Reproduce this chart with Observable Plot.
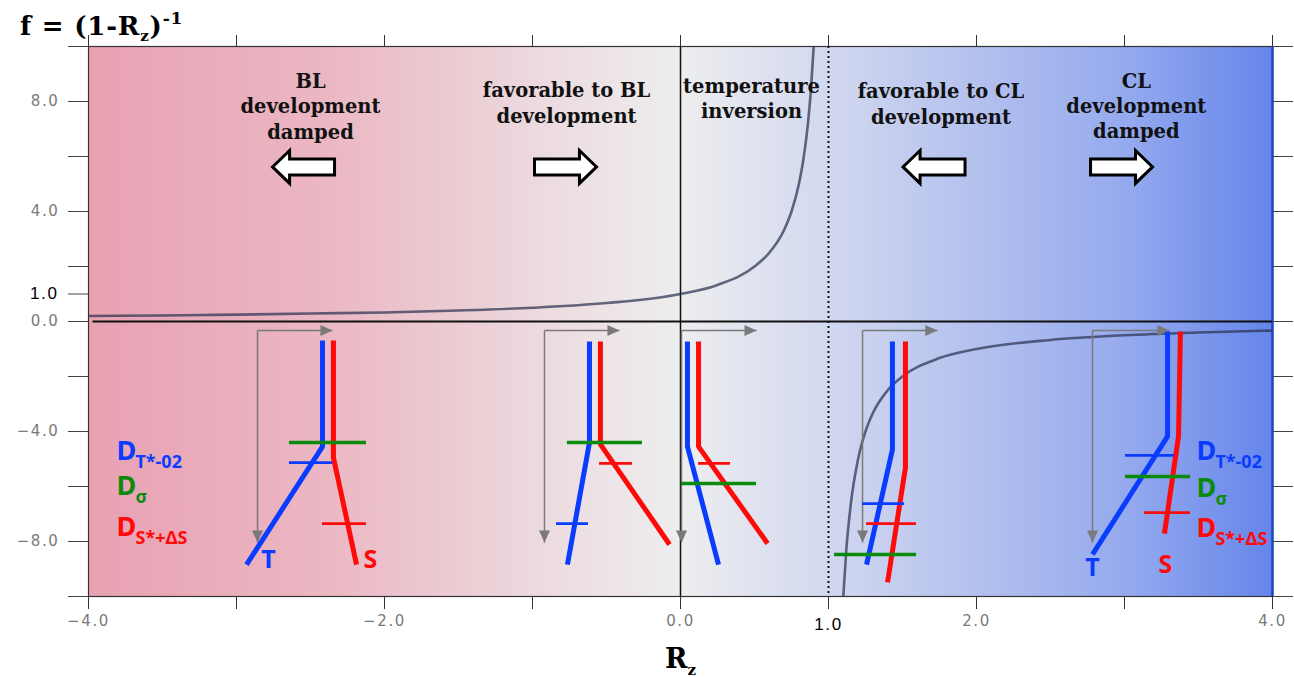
<!DOCTYPE html>
<html><head><meta charset="utf-8">
<script src="https://cdn.jsdelivr.net/npm/d3@7"></script>
<script src="https://cdn.jsdelivr.net/npm/@observablehq/plot@0.6"></script>
<style>
html,body{margin:0;padding:0;background:#fff;}
#chart{position:relative;width:1294px;height:677px;}
#chart g[aria-label$="tick label"] text{letter-spacing:1.6px;}
</style>
</head><body><div id="chart"></div>
<script>
// ---------- axes ----------
const xTicks = [-4, -3, -2, -1, 0, 1, 2, 3, 4];
const xTickLabels = [-4, -2, 0, 2, 4];
const yTicks = [-10, -8, -6, -4, -2, 0, 2, 4, 6, 8, 10];
const yTickLabels = [-8, -4, 0, 4, 8];
const highlightTick = [1];

// ---------- f = (1-Rz)^-1 ----------
const curveLeftRz = [-4, -3.5, -3, -2.5, -2, -1.5, -1, -0.5, 0, 0.25, 0.5, 0.6, 0.7, 0.75, 0.8, 0.83, 0.86, 0.88, 0.9];
const curveLeftF  = [0.2, 0.22, 0.25, 0.29, 0.33, 0.4, 0.5, 0.67, 1.0, 1.33, 2.0, 2.5, 3.33, 4.0, 5.0, 5.88, 7.14, 8.33, 10.0];
const curveRightRz = [1.1, 1.12, 1.15, 1.2, 1.25, 1.3, 1.4, 1.5, 1.75, 2, 2.5, 3, 3.5, 4];
const curveRightF  = [-10, -8.33, -6.67, -5, -4, -3.33, -2.5, -2, -1.33, -1, -0.67, -0.5, -0.4, -0.33];

// ---------- background gradient (pink -> grey -> blue) ----------
const bgOffsets = [0, 0.2, 0.4, 0.5, 0.62, 0.75, 0.88, 1];
const bgColors  = ["#e8a1b2", "#ebb7c3", "#ecdde1", "#eeeeef", "#d3d9ef", "#b4c1ee", "#94a9ee", "#6585ea"];

// ---------- region annotations ----------
const regionX = [-2.5, -0.77, 0.48, 1.76, 3.08];
const regionF = [7.86, 7.98, 8.15, 7.95, 7.88];
const regionText = ["BL\ndevelopment\ndamped", "favorable to BL\ndevelopment", "temperature\ninversion", "favorable to CL\ndevelopment", "CL\ndevelopment\ndamped"];

const blockArrowX = [-2.547, -0.777, 1.713, 2.98];
const blockArrowF = [5.62, 5.62, 5.62, 5.62];
const blockArrowDir = ["left", "right", "left", "right"];

// ---------- schematic profiles ----------
const glyphOriginX = [-2.858, -0.919, 0.007, 1.230, 2.784];
const glyphArrowTipX = [-2.351, -0.412, 0.514, 1.736, 3.304];
const glyphTopF = [-0.33, -0.33, -0.33, -0.33, -0.33];
const glyphBottomF = [-8.04, -8.04, -8.04, -8.04, -8.04];

const profileT = [
  [[-2.419, -0.69], [-2.419, -4.55], [-2.932, -8.84]],
  [[-0.615, -0.73], [-0.615, -4.40], [-0.764, -8.84]],
  [[0.047, -0.73], [0.047, -4.55], [0.257, -8.84]],
  [[1.432, -0.73], [1.432, -4.66], [1.257, -8.84]],
  [[3.291, -0.36], [3.291, -4.18], [2.784, -8.47]]
];
const profileS = [
  [[-2.345, -0.69], [-2.345, -4.95], [-2.189, -8.84]],
  [[-0.541, -0.73], [-0.541, -4.47], [-0.074, -8.11]],
  [[0.122, -0.73], [0.122, -4.55], [0.588, -8.07]],
  [[1.520, -0.73], [1.520, -5.31], [1.399, -9.49]],
  [[3.378, -0.36], [3.365, -4.18], [3.270, -7.71]]
];
// depth markers: [Rz start, Rz end, f]
const depthT = [[-2.642, -2.351, -5.13], [-0.838, -0.622, -7.35], [1.230, 1.514, -6.62], [3.007, 3.338, -4.87]];
const depthS = [[-2.419, -2.122, -7.35], [-0.547, -0.324, -5.16], [0.122, 0.338, -5.16], [1.257, 1.595, -7.35], [3.135, 3.446, -6.95]];
const depthSigma = [[-2.642, -2.122, -4.40], [-0.764, -0.257, -4.40], [0.007, 0.514, -5.89], [1.041, 1.595, -8.47], [3.007, 3.446, -5.64]];

const tsText = ["T", "S", "T", "S"];
const tsX = [-2.784, -2.095, 2.784, 3.277];
const tsF = [-8.69, -8.69, -8.95, -8.84];

const legendX = [-3.811, 3.486];
const legendMain = ["D", "D", "D"];
const legendSub = ["T*-02", "σ", "S*+ΔS"];
const legendF = [[-5.03, -6.30, -7.79], [-5.03, -6.37, -7.82]];

// ---------- styles ----------
const BLUE = "#0a3cff", RED = "#ff0a0a", GREEN = "#0b8a0b", GREY = "#7a7a7a";
const legendColors = [BLUE, GREEN, RED];
const fmt = d3.format(".1f");

// custom symbols
function blockSymbol(dir) {
  const k = dir === "right" ? 1 : -1;
  const pts = [[-1, -0.26], [0.45, -0.26], [0.45, -0.53], [1, 0], [0.45, 0.53], [0.45, 0.26], [-1, 0.26]];
  return {draw(ctx, size) {
    const s = Math.sqrt(size / Math.PI);
    pts.forEach(([a, b], i) => i ? ctx.lineTo(k * a * s, b * s) : ctx.moveTo(k * a * s, b * s));
    ctx.closePath();
  }};
}
const triRight = {draw(ctx, size) { const s = Math.sqrt(size / Math.PI); ctx.moveTo(0, 0); ctx.lineTo(-2.2 * s, -s); ctx.lineTo(-2.2 * s, s); ctx.closePath(); }};
const triDown = {draw(ctx, size) { const s = Math.sqrt(size / Math.PI); ctx.moveTo(0, 0); ctx.lineTo(-s, -2.2 * s); ctx.lineTo(s, -2.2 * s); ctx.closePath(); }};

const gradientDefs = () => {
  const ns = "http://www.w3.org/2000/svg";
  const defs = document.createElementNS(ns, "defs");
  const lg = document.createElementNS(ns, "linearGradient");
  lg.setAttribute("id", "bgGrad");
  lg.setAttribute("x1", "0"); lg.setAttribute("x2", "1"); lg.setAttribute("y1", "0"); lg.setAttribute("y2", "0");
  bgOffsets.forEach((o, i) => {
    const st = document.createElementNS(ns, "stop");
    st.setAttribute("offset", o);
    st.setAttribute("stop-color", bgColors[i]);
    lg.appendChild(st);
  });
  defs.appendChild(lg);
  return defs;
};

const toRows = (profiles) => profiles.flatMap((pts, g) => pts.map(p => ({g, x: p[0], y: p[1]})));
const idx = (arr) => arr.map((_, i) => i);

const curveRows = [
  ...curveLeftRz.map((x, i) => ({g: 0, x, y: curveLeftF[i]})),
  ...curveRightRz.map((x, i) => ({g: 1, x, y: curveRightF[i]}))
];
const arrowRows = idx(blockArrowX).map(i => ({x: blockArrowX[i], y: blockArrowF[i], dir: blockArrowDir[i]}));
const glyphRows = idx(glyphOriginX).map(i => ({ox: glyphOriginX[i], tx: glyphArrowTipX[i], top: glyphTopF[i], bot: glyphBottomF[i]}));
const legendRows = legendX.flatMap((x, j) => legendMain.map((m, i) => ({x, y: legendF[j][i], main: m, sub: legendSub[i], color: legendColors[i]})));

const svg = Plot.plot({
  width: 1294,
  height: 677,
  marginLeft: 88,
  marginRight: 22,
  marginTop: 46,
  marginBottom: 81,
  x: {domain: [-4, 4]},
  y: {domain: [-10, 10]},
  style: {fontFamily: "DejaVu Sans", background: "transparent", overflow: "visible"},
  marks: [
    gradientDefs,
    Plot.rect([0], {x1: -4, x2: 4, y1: -10, y2: 10, fill: "url(#bgGrad)"}),
    Plot.frame({stroke: "#333", strokeWidth: 1.2}),
    Plot.ruleX([4], {stroke: "#1c45c4", strokeWidth: 2.5}),
    // axes
    Plot.axisY({anchor: "left", ticks: yTicks, tickSize: 20, tickPadding: 9, fontSize: 15, fill: "#7a7a7a", stroke: "#444",
      tickFormat: d => yTickLabels.includes(d) ? fmt(d) : "", label: null}),
    Plot.axisY({anchor: "left", ticks: highlightTick, tickSize: 20, tickPadding: 10, fontSize: 17, fontFamily: "Liberation Sans", fill: "#000", stroke: "#444",
      tickFormat: fmt, label: null}),
    Plot.axisY({anchor: "right", ticks: yTicks, tickSize: 20, stroke: "#444", tickFormat: () => "", label: null}),
    Plot.axisX({anchor: "bottom", ticks: xTicks, tickSize: 13, tickPadding: 6, fontSize: 15, fill: "#7a7a7a", stroke: "#333",
      tickFormat: d => xTickLabels.includes(d) ? fmt(d) : "", label: null}),
    Plot.axisX({anchor: "bottom", ticks: highlightTick, tickSize: 13, tickPadding: 8, fontSize: 17, fontFamily: "Liberation Sans", fill: "#000", stroke: "#333",
      tickFormat: fmt, label: null}),
    Plot.axisX({anchor: "top", ticks: xTicks, tickSize: 12, stroke: "#333", tickFormat: () => "", label: null}),
    // reference lines
    Plot.ruleY([0], {x1: -3.97, x2: 4, stroke: "#111", strokeWidth: 2}),
    Plot.ruleX([0], {stroke: "#111", strokeWidth: 1.5}),
    Plot.ruleX(highlightTick, {stroke: "#111", strokeWidth: 2, strokeDasharray: "2,3"}),
    // f curve
    Plot.line(curveRows, {x: "x", y: "y", z: "g", stroke: "#2b3350", strokeOpacity: 0.72, strokeWidth: 2.6, curve: "monotone-x", clip: true}),
    // region labels
    Plot.text(idx(regionText), {x: i => regionX[i], y: i => regionF[i], text: i => regionText[i],
      fontFamily: "DejaVu Serif", fontWeight: "bold", fontSize: 19.5, lineHeight: 1.3, fill: "#111"}),
    Plot.dot(arrowRows.filter(d => d.dir === "left"), {x: "x", y: "y", r: 31, symbol: blockSymbol("left"), fill: "#fff", stroke: "#000", strokeWidth: 3}),
    Plot.dot(arrowRows.filter(d => d.dir === "right"), {x: "x", y: "y", r: 31, symbol: blockSymbol("right"), fill: "#fff", stroke: "#000", strokeWidth: 3}),
    // schematic grey axes
    Plot.link(glyphRows, {x1: "ox", y1: "top", x2: "tx", y2: "top", stroke: GREY, strokeWidth: 1.5}),
    Plot.link(glyphRows, {x1: "ox", y1: "top", x2: "ox", y2: "bot", stroke: GREY, strokeWidth: 1.5}),
    Plot.dot(glyphRows, {x: "tx", y: "top", r: 5.5, symbol: triRight, fill: GREY, stroke: "none"}),
    Plot.dot(glyphRows, {x: "ox", y: "bot", r: 5.5, symbol: triDown, fill: GREY, stroke: "none"}),
    // profiles
    Plot.line(toRows(profileT), {x: "x", y: "y", z: "g", stroke: BLUE, strokeWidth: 5, strokeLinecap: "butt", strokeLinejoin: "miter"}),
    Plot.line(toRows(profileS), {x: "x", y: "y", z: "g", stroke: RED, strokeWidth: 5, strokeLinecap: "butt", strokeLinejoin: "miter"}),
    Plot.ruleY(depthT, {y: d => d[2], x1: d => d[0], x2: d => d[1], stroke: BLUE, strokeWidth: 2.8}),
    Plot.ruleY(depthS, {y: d => d[2], x1: d => d[0], x2: d => d[1], stroke: RED, strokeWidth: 2.8}),
    Plot.ruleY(depthSigma, {y: d => d[2], x1: d => d[0], x2: d => d[1], stroke: GREEN, strokeWidth: 3.5}),
    Plot.text(idx(tsText), {x: i => tsX[i], y: i => tsF[i], text: i => tsText[i], fill: i => i % 2 ? RED : BLUE,
      fontFamily: "Noto Sans", fontWeight: "bold", fontSize: 25}),
    // legends
    Plot.text(legendRows, {x: "x", y: "y", text: "main", fill: "color", textAnchor: "start", lineAnchor: "bottom",
      fontFamily: "Noto Sans", fontWeight: "bold", fontSize: 27}),
    Plot.text(legendRows, {x: "x", y: "y", text: "sub", fill: "color", textAnchor: "start", lineAnchor: "bottom", dx: 19, dy: 8,
      fontFamily: "Noto Sans", fontWeight: "bold", fontSize: 18})
  ]
});

// titles with sub/superscripts
const sel = d3.select(svg);
const t = sel.append("text").attr("x", 20).attr("y", 35).attr("text-anchor", "start")
  .attr("font-family", "DejaVu Serif").attr("font-weight", "bold").attr("font-size", 26).attr("letter-spacing", 0.8).attr("fill", "#000");
t.append("tspan").text("f = (1-R");
t.append("tspan").attr("font-size", 15).attr("dy", 6).text("z");
t.append("tspan").attr("dy", -6).text(")");
t.append("tspan").attr("font-size", 17).attr("dy", -11).text("-1");

const xl = sel.append("text").attr("x", 665).attr("y", 668).attr("text-anchor", "start")
  .attr("font-family", "DejaVu Serif").attr("font-weight", "bold").attr("font-size", 27).attr("fill", "#000");
xl.append("tspan").text("R");
xl.append("tspan").attr("font-size", 15).attr("dy", 7).text("z");

document.getElementById("chart").appendChild(svg);
</script>
</body></html>
